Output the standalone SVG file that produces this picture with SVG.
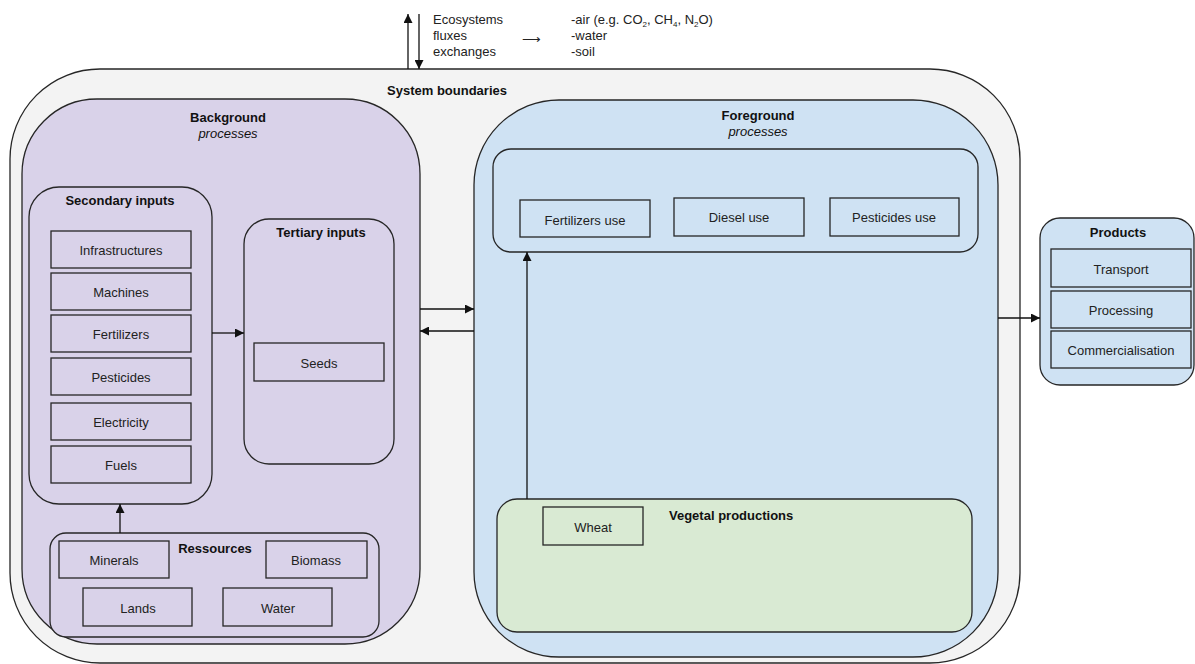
<svg xmlns="http://www.w3.org/2000/svg" width="1195" height="664" viewBox="0 0 1195 664">
  <style>
    .box { stroke: #262626; stroke-width: 1.3; }
    .item { fill: none; stroke: #262626; stroke-width: 1.3; }
    .lbl { font-family: "Liberation Sans", Arial, sans-serif; font-size: 13px; fill: #222; text-anchor: middle; }
    .ttl { font-family: "Liberation Sans", Arial, sans-serif; font-size: 13px; font-weight: bold; fill: #111; text-anchor: middle; }
    .ttl.left { text-anchor: start; }
    .it { font-style: italic; font-weight: normal; }
    .note { font-family: "Liberation Sans", Arial, sans-serif; font-size: 13px; fill: #222; }
    .sub { font-size: 8px; }
    .edge { fill: none; stroke: #111; stroke-width: 1.3; }
  </style>
  <defs>
    <marker id="arrow" viewBox="0 0 10 10" refX="10" refY="5" markerWidth="9" markerHeight="9" markerUnits="userSpaceOnUse" orient="auto">
      <path d="M0,0 L10,5 L0,10 Z" fill="#111"/>
    </marker>
  </defs>

  <rect width="1195" height="664" fill="#ffffff"/>

  <!-- System boundary -->
  <g id="system">
    <rect class="box" x="10" y="69" width="1010" height="594" rx="90" ry="90" fill="#f3f3f3"/>
    <text class="ttl" x="447" y="95">System boundaries</text>
  </g>

  <!-- Exchanges with ecosystems -->
  <g id="ecosystems">
    <text class="note" x="433" y="24">Ecosystems</text>
    <text class="note" x="433" y="40">fluxes</text>
    <text class="note" x="433" y="56">exchanges</text>
    <text class="note" x="522" y="44" font-size="16">⟶</text>
    <text class="note" x="571" y="24">-air (e.g. CO<tspan class="sub" dy="3">2</tspan><tspan dy="-3">, CH</tspan><tspan class="sub" dy="3">4</tspan><tspan dy="-3">, N</tspan><tspan class="sub" dy="3">2</tspan><tspan dy="-3">O)</tspan></text>
    <text class="note" x="571" y="40">-water</text>
    <text class="note" x="571" y="56">-soil</text>
  </g>

  <!-- Background processes -->
  <g id="background">
    <rect class="box" x="22" y="99" width="398" height="545" rx="75" ry="75" fill="#d9d2e9"/>
    <text class="ttl" x="228" y="122">Background</text>
    <text class="ttl it" x="228" y="138">processes</text>
  </g>

  <g id="secondary-inputs">
    <rect class="box" x="29" y="187" width="183" height="317" rx="30" ry="30" fill="#d9d2e9"/>
    <text class="ttl" x="120" y="205">Secondary inputs</text>
    <rect class="item" x="51" y="231" width="140" height="37"/>
    <text class="lbl" x="121" y="255">Infrastructures</text>
    <rect class="item" x="51" y="273" width="140" height="37"/>
    <text class="lbl" x="121" y="297">Machines</text>
    <rect class="item" x="51" y="315" width="140" height="37"/>
    <text class="lbl" x="121" y="339">Fertilizers</text>
    <rect class="item" x="51" y="358" width="140" height="37"/>
    <text class="lbl" x="121" y="382">Pesticides</text>
    <rect class="item" x="51" y="403" width="140" height="37"/>
    <text class="lbl" x="121" y="427">Electricity</text>
    <rect class="item" x="51" y="446" width="140" height="37"/>
    <text class="lbl" x="121" y="470">Fuels</text>
  </g>

  <g id="tertiary-inputs">
    <rect class="box" x="244" y="219" width="150" height="245" rx="25" ry="25" fill="#d9d2e9"/>
    <text class="ttl" x="321" y="237">Tertiary inputs</text>
    <rect class="item" x="254" y="343" width="130" height="38"/>
    <text class="lbl" x="319" y="368">Seeds</text>
  </g>

  <g id="ressources">
    <rect class="box" x="50" y="533" width="329" height="104" rx="16" ry="16" fill="#d9d2e9"/>
    <text class="ttl" x="215" y="553">Ressources</text>
    <rect class="item" x="59" y="541" width="110" height="37"/>
    <text class="lbl" x="114" y="565">Minerals</text>
    <rect class="item" x="266" y="541" width="101" height="37"/>
    <text class="lbl" x="316" y="565">Biomass</text>
    <rect class="item" x="83" y="588" width="109" height="38"/>
    <text class="lbl" x="138" y="613">Lands</text>
    <rect class="item" x="223" y="588" width="109" height="38"/>
    <text class="lbl" x="278" y="613">Water</text>
  </g>

  <!-- Foreground processes -->
  <g id="foreground">
    <rect class="box" x="474" y="100" width="524" height="557" rx="85" ry="85" fill="#cfe2f3"/>
    <text class="ttl" x="758" y="120">Foreground</text>
    <text class="ttl it" x="758" y="136">processes</text>
  </g>

  <g id="uses">
    <rect class="box" x="493" y="149" width="485" height="103" rx="18" ry="18" fill="#cfe2f3"/>
    <rect class="item" x="520" y="200" width="130" height="37"/>
    <text class="lbl" x="585" y="225">Fertilizers use</text>
    <rect class="item" x="674" y="198" width="130" height="38"/>
    <text class="lbl" x="739" y="222">Diesel use</text>
    <rect class="item" x="830" y="198" width="129" height="38"/>
    <text class="lbl" x="894" y="222">Pesticides use</text>
  </g>

  <g id="vegetal-productions">
    <rect class="box" x="497" y="499" width="475" height="133" rx="20" ry="20" fill="#d9ead3"/>
    <text class="ttl left" x="669" y="520">Vegetal productions</text>
    <rect class="item" x="543" y="507" width="100" height="38"/>
    <text class="lbl" x="593" y="532">Wheat</text>
  </g>

  <!-- Products -->
  <g id="products">
    <rect class="box" x="1040" y="218" width="154" height="167" rx="20" ry="20" fill="#cfe2f3"/>
    <text class="ttl" x="1118" y="237">Products</text>
    <rect class="item" x="1051" y="249" width="140" height="38"/>
    <text class="lbl" x="1121" y="274">Transport</text>
    <rect class="item" x="1051" y="291" width="140" height="37"/>
    <text class="lbl" x="1121" y="315">Processing</text>
    <rect class="item" x="1051" y="331" width="140" height="37"/>
    <text class="lbl" x="1121" y="355">Commercialisation</text>
  </g>

  <!-- Connectors -->
  <g id="connectors">
    <line class="edge" x1="408" y1="69" x2="408" y2="14" marker-end="url(#arrow)"/>
    <line class="edge" x1="419" y1="14" x2="419" y2="69" marker-end="url(#arrow)"/>
    <line class="edge" x1="212" y1="333" x2="244" y2="333" marker-end="url(#arrow)"/>
    <line class="edge" x1="120" y1="533" x2="120" y2="504" marker-end="url(#arrow)"/>
    <line class="edge" x1="420" y1="309" x2="474" y2="309" marker-end="url(#arrow)"/>
    <line class="edge" x1="474" y1="331" x2="420" y2="331" marker-end="url(#arrow)"/>
    <line class="edge" x1="527" y1="499" x2="527" y2="252" marker-end="url(#arrow)"/>
    <line class="edge" x1="998" y1="318" x2="1040" y2="318" marker-end="url(#arrow)"/>
  </g>
</svg>
